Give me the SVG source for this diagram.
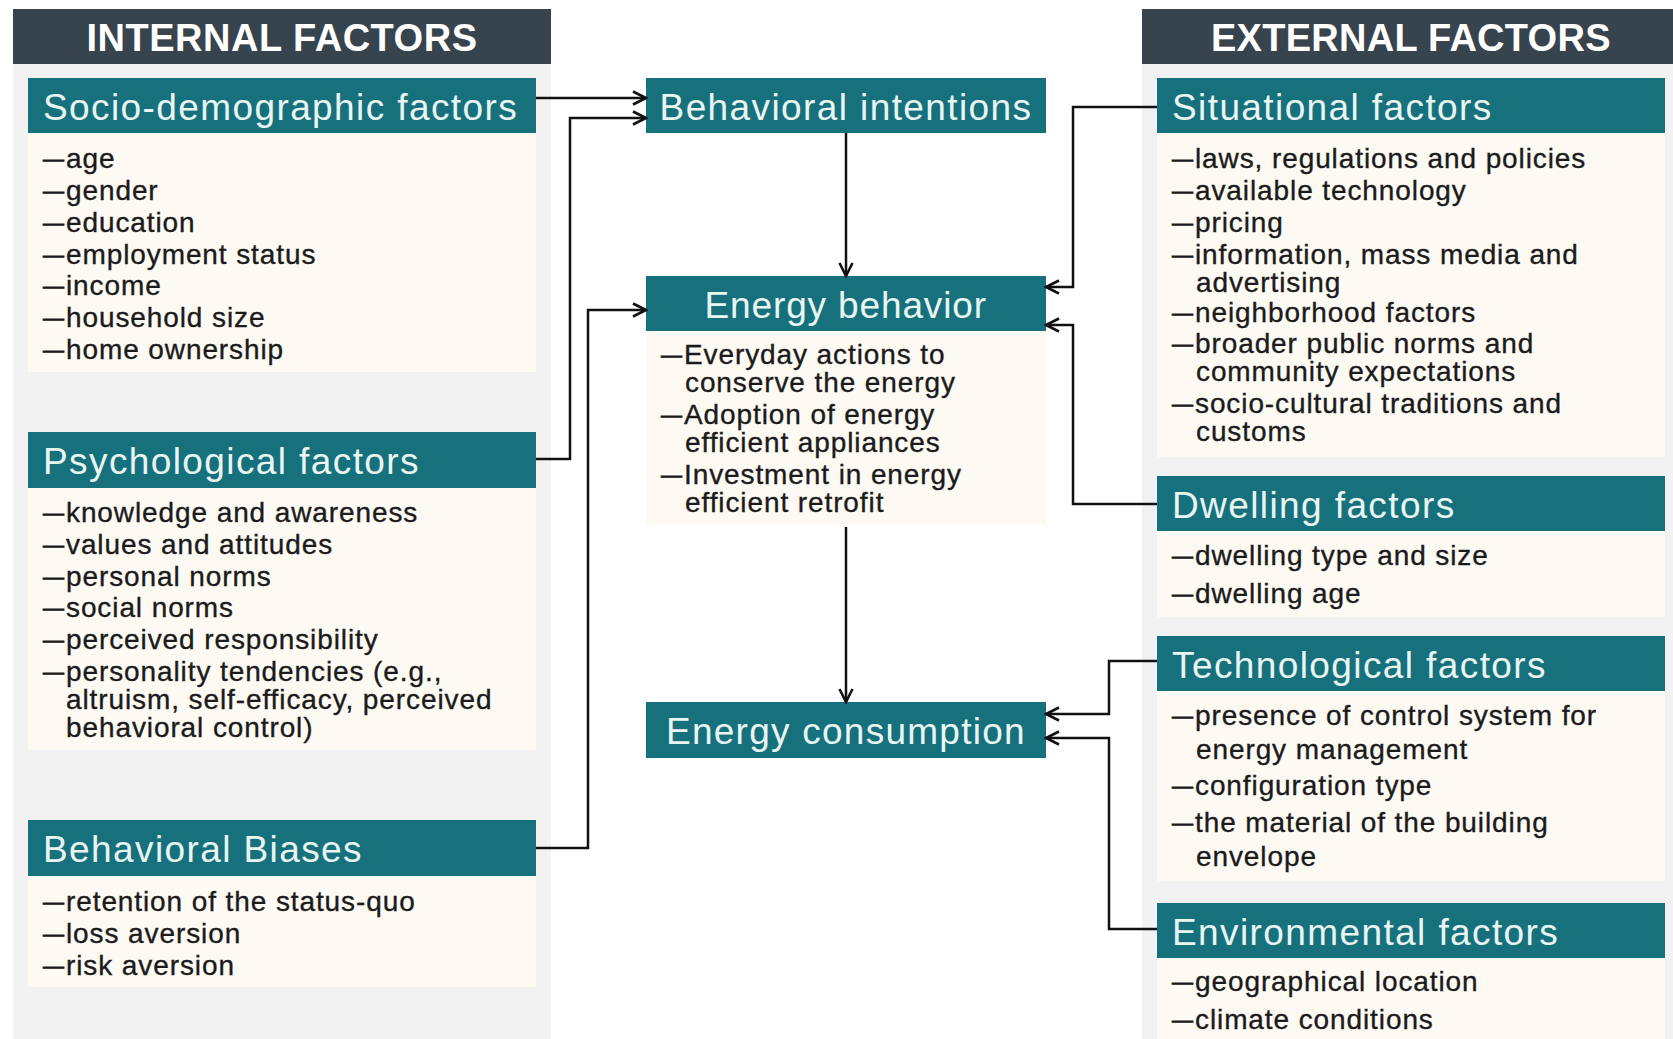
<svg xmlns="http://www.w3.org/2000/svg" width="1673" height="1039" viewBox="0 0 1673 1039">
  <style>
    .panel { fill: #f2f2f3; }
    .cap { fill: #37434d; }
    .capText { font-family: "Liberation Sans", Arial, sans-serif; font-weight: bold; font-size: 38px; fill: #ffffff; letter-spacing: 0.5px; text-anchor: middle; }
    .head { fill: #17717d; }
    .headText { font-family: "Liberation Sans", Arial, sans-serif; font-size: 37px; fill: #e9f5f3; letter-spacing: 1.4px; }
    .body { fill: #fdf9f3; }
    .item { font-family: "Liberation Sans", Arial, sans-serif; font-size: 28px; fill: #1b1b1b; stroke: #1b1b1b; stroke-width: 0.35px; letter-spacing: 0.9px; }
    .d { font-size: 21px; letter-spacing: 2px; stroke-width: 0.8px; }
    .link { fill: none; stroke: #111111; stroke-width: 2.5; marker-end: url(#arrow); }
  </style>
  <defs>
    <marker id="arrow" markerUnits="userSpaceOnUse" viewBox="0 0 16 16" refX="14" refY="8" markerWidth="16" markerHeight="16" orient="auto">
      <path d="M1,1.5 L14,8 L1,14.5" fill="none" stroke="#111111" stroke-width="2.6"/>
    </marker>
  </defs>

  <rect width="1673" height="1039" fill="#ffffff"/>

  <!-- side panels -->
  <g id="internal-panel">
    <rect class="panel" x="13" y="9" width="538" height="1030"/>
    <rect class="cap" x="13" y="9" width="538" height="55"/>
    <text class="capText" x="282" y="51" textLength="391">INTERNAL FACTORS</text>
  </g>
  <g id="external-panel">
    <rect class="panel" x="1142" y="9" width="531" height="1030"/>
    <rect class="cap" x="1142" y="9" width="531" height="55"/>
    <text class="capText" x="1411" y="51" textLength="400">EXTERNAL FACTORS</text>
  </g>

  <!-- internal factors -->
  <g id="socio-demographic">
    <rect class="head" x="28" y="78" width="508" height="55"/>
    <text class="headText" x="43" y="120">Socio-demographic factors</text>
    <rect class="body" x="28" y="133" width="508" height="239"/>
    <text class="item" x="43" y="168"><tspan class="d" dy="-2">—</tspan><tspan dy="2">age</tspan></text>
    <text class="item" x="43" y="200"><tspan class="d" dy="-2">—</tspan><tspan dy="2">gender</tspan></text>
    <text class="item" x="43" y="232"><tspan class="d" dy="-2">—</tspan><tspan dy="2">education</tspan></text>
    <text class="item" x="43" y="264"><tspan class="d" dy="-2">—</tspan><tspan dy="2">employment status</tspan></text>
    <text class="item" x="43" y="295"><tspan class="d" dy="-2">—</tspan><tspan dy="2">income</tspan></text>
    <text class="item" x="43" y="327"><tspan class="d" dy="-2">—</tspan><tspan dy="2">household size</tspan></text>
    <text class="item" x="43" y="359"><tspan class="d" dy="-2">—</tspan><tspan dy="2">home ownership</tspan></text>
  </g>

  <g id="psychological">
    <rect class="head" x="28" y="432" width="508" height="56"/>
    <text class="headText" x="43" y="474">Psychological factors</text>
    <rect class="body" x="28" y="488" width="508" height="262"/>
    <text class="item" x="43" y="522"><tspan class="d" dy="-2">—</tspan><tspan dy="2">knowledge and awareness</tspan></text>
    <text class="item" x="43" y="554"><tspan class="d" dy="-2">—</tspan><tspan dy="2">values and attitudes</tspan></text>
    <text class="item" x="43" y="586"><tspan class="d" dy="-2">—</tspan><tspan dy="2">personal norms</tspan></text>
    <text class="item" x="43" y="617"><tspan class="d" dy="-2">—</tspan><tspan dy="2">social norms</tspan></text>
    <text class="item" x="43" y="649"><tspan class="d" dy="-2">—</tspan><tspan dy="2">perceived responsibility</tspan></text>
    <text class="item" x="43" y="681"><tspan class="d" dy="-2">—</tspan><tspan dy="2">personality tendencies (e.g.,</tspan></text>
    <text class="item" x="66" y="709">altruism, self-efficacy, perceived</text>
    <text class="item" x="66" y="737">behavioral control)</text>
  </g>

  <g id="behavioral-biases">
    <rect class="head" x="28" y="820" width="508" height="56"/>
    <text class="headText" x="43" y="862">Behavioral Biases</text>
    <rect class="body" x="28" y="876" width="508" height="111"/>
    <text class="item" x="43" y="911"><tspan class="d" dy="-2">—</tspan><tspan dy="2">retention of the status-quo</tspan></text>
    <text class="item" x="43" y="943"><tspan class="d" dy="-2">—</tspan><tspan dy="2">loss aversion</tspan></text>
    <text class="item" x="43" y="975"><tspan class="d" dy="-2">—</tspan><tspan dy="2">risk aversion</tspan></text>
  </g>

  <!-- central chain -->
  <g id="behavioral-intentions">
    <rect class="head" x="646" y="78" width="400" height="55"/>
    <text class="headText" x="846" y="120" text-anchor="middle">Behavioral intentions</text>
  </g>

  <g id="energy-behavior">
    <rect class="head" x="646" y="276" width="400" height="55"/>
    <text class="headText" x="846" y="318" text-anchor="middle" textLength="283">Energy behavior</text>
    <rect class="body" x="646" y="331" width="400" height="193"/>
    <text class="item" x="661" y="364"><tspan class="d" dy="-2">—</tspan><tspan dy="2">Everyday actions to</tspan></text>
    <text class="item" x="685" y="392">conserve the energy</text>
    <text class="item" x="661" y="424"><tspan class="d" dy="-2">—</tspan><tspan dy="2">Adoption of energy</tspan></text>
    <text class="item" x="685" y="452">efficient appliances</text>
    <text class="item" x="661" y="484"><tspan class="d" dy="-2">—</tspan><tspan dy="2">Investment in energy</tspan></text>
    <text class="item" x="685" y="512">efficient retrofit</text>
  </g>

  <g id="energy-consumption">
    <rect class="head" x="646" y="702" width="400" height="56"/>
    <text class="headText" x="846" y="744" text-anchor="middle" textLength="360">Energy consumption</text>
  </g>

  <!-- external factors -->
  <g id="situational">
    <rect class="head" x="1157" y="78" width="508" height="55"/>
    <text class="headText" x="1172" y="120">Situational factors</text>
    <rect class="body" x="1157" y="133" width="508" height="324"/>
    <text class="item" x="1172" y="168"><tspan class="d" dy="-2">—</tspan><tspan dy="2">laws, regulations and policies</tspan></text>
    <text class="item" x="1172" y="200"><tspan class="d" dy="-2">—</tspan><tspan dy="2">available technology</tspan></text>
    <text class="item" x="1172" y="232"><tspan class="d" dy="-2">—</tspan><tspan dy="2">pricing</tspan></text>
    <text class="item" x="1172" y="264"><tspan class="d" dy="-2">—</tspan><tspan dy="2">information, mass media and</tspan></text>
    <text class="item" x="1196" y="292">advertising</text>
    <text class="item" x="1172" y="322"><tspan class="d" dy="-2">—</tspan><tspan dy="2">neighborhood factors</tspan></text>
    <text class="item" x="1172" y="353"><tspan class="d" dy="-2">—</tspan><tspan dy="2">broader public norms and</tspan></text>
    <text class="item" x="1196" y="381">community expectations</text>
    <text class="item" x="1172" y="413"><tspan class="d" dy="-2">—</tspan><tspan dy="2">socio-cultural traditions and</tspan></text>
    <text class="item" x="1196" y="441">customs</text>
  </g>

  <g id="dwelling">
    <rect class="head" x="1157" y="476" width="508" height="55"/>
    <text class="headText" x="1172" y="518">Dwelling factors</text>
    <rect class="body" x="1157" y="531" width="508" height="86"/>
    <text class="item" x="1172" y="565"><tspan class="d" dy="-2">—</tspan><tspan dy="2">dwelling type and size</tspan></text>
    <text class="item" x="1172" y="603"><tspan class="d" dy="-2">—</tspan><tspan dy="2">dwelling age</tspan></text>
  </g>

  <g id="technological">
    <rect class="head" x="1157" y="636" width="508" height="55"/>
    <text class="headText" x="1172" y="678">Technological factors</text>
    <rect class="body" x="1157" y="691" width="508" height="190"/>
    <text class="item" x="1172" y="725"><tspan class="d" dy="-2">—</tspan><tspan dy="2">presence of control system for</tspan></text>
    <text class="item" x="1196" y="759">energy management</text>
    <text class="item" x="1172" y="795"><tspan class="d" dy="-2">—</tspan><tspan dy="2">configuration type</tspan></text>
    <text class="item" x="1172" y="832"><tspan class="d" dy="-2">—</tspan><tspan dy="2">the material of the building</tspan></text>
    <text class="item" x="1196" y="866">envelope</text>
  </g>

  <g id="environmental">
    <rect class="head" x="1157" y="903" width="508" height="55"/>
    <text class="headText" x="1172" y="945">Environmental factors</text>
    <rect class="body" x="1157" y="958" width="508" height="81"/>
    <text class="item" x="1172" y="991"><tspan class="d" dy="-2">—</tspan><tspan dy="2">geographical location</tspan></text>
    <text class="item" x="1172" y="1029"><tspan class="d" dy="-2">—</tspan><tspan dy="2">climate conditions</tspan></text>
  </g>

  <!-- connectors -->
  <g id="connectors">
    <path class="link" d="M536,98 H646"/>
    <path class="link" d="M536,459 H570 V118 H646"/>
    <path class="link" d="M536,848 H588 V310 H646"/>
    <path class="link" d="M846,133 V276"/>
    <path class="link" d="M846,527 V702"/>
    <path class="link" d="M1157,107 H1073 V287 H1046"/>
    <path class="link" d="M1157,504 H1073 V325 H1046"/>
    <path class="link" d="M1157,661 H1109 V714 H1046"/>
    <path class="link" d="M1157,929 H1109 V738 H1046"/>
  </g>
</svg>
